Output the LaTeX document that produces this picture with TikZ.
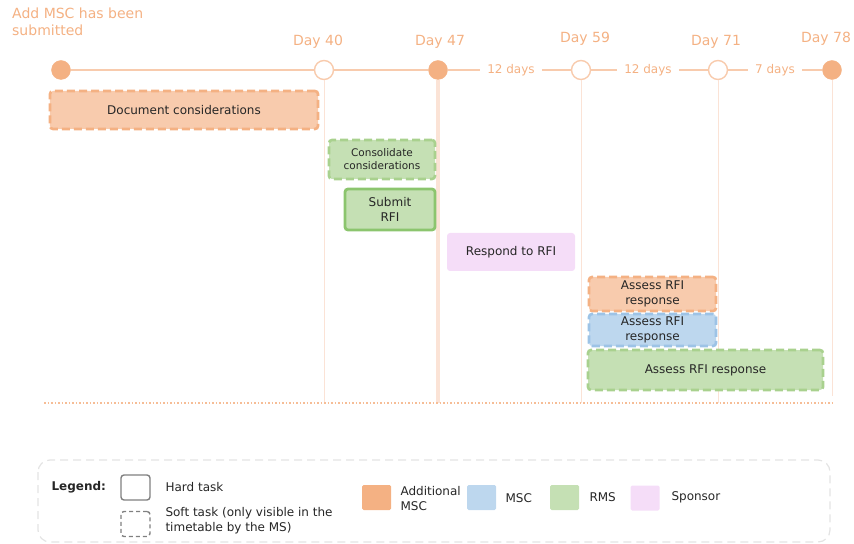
\documentclass[tikz,border=0pt]{standalone}
\usepackage{fontspec}
\setmainfont{DejaVu Sans}
\definecolor{amsc}{HTML}{F4B183}
\definecolor{amscl}{HTML}{F8CBAD}
\definecolor{amsctxt}{HTML}{F4B183}
\definecolor{msc}{HTML}{BDD7EE}
\definecolor{mscd}{HTML}{9DC3E6}
\definecolor{rms}{HTML}{C5E0B4}
\definecolor{rmsd}{HTML}{A9D18E}
\definecolor{rmsh}{HTML}{8CC56E}
\definecolor{spon}{HTML}{F5DDF8}
\definecolor{tline}{HTML}{F8CBAD}
\definecolor{vline}{HTML}{FBE3D6}
\definecolor{leggray}{HTML}{808080}
\definecolor{legbox}{HTML}{E3E3E3}
\begin{document}
\begin{tikzpicture}[x=1bp,y=-1bp,
  every node/.style={font=\fontsize{12bp}{14.5bp}\selectfont, text=black!85, align=center},
  task/.style={rectangle, rounded corners=3bp, inner sep=0pt},
  soft/.style={task, dashed, dash pattern=on 8bp off 4bp, line width=2.6bp},
  hard/.style={task, line width=2.8bp},
  msfull/.style={circle, fill=amsc, draw=amsc, minimum size=19bp, inner sep=0pt},
  msopen/.style={circle, fill=white, draw=tline, line width=1.4bp, minimum size=19bp, inner sep=0pt},
  daylbl/.style={font=\fontsize{14bp}{17bp}\selectfont, text=amsctxt},
  gaplbl/.style={font=\fontsize{12bp}{14bp}\selectfont, text=amsctxt, inner sep=7bp},
  tl/.style={draw=tline, line width=1.4bp},
  guide/.style={draw=vline, line width=0.9bp},
  swatch/.style={rectangle, rounded corners=1.5bp, minimum width=29bp, minimum height=25bp, inner sep=0pt},
  legtxt/.style={font=\fontsize{12bp}{15bp}\selectfont, align=left, anchor=west}
]
\useasboundingbox (0,0) rectangle (854,544);

% milestones
\node[msfull] (m0) at (61,70) {};
\node[msopen] (m1) at (324,70) {};
\node[msfull] (m2) at (438,70) {};
\node[msopen] (m3) at (581,70) {};
\node[msopen] (m4) at (718,70) {};
\node[msfull] (m5) at (832,70) {};

% milestone labels
\node[daylbl, align=left, anchor=north west, inner sep=0pt] (start) at (12,8) {Add MSC has been\\submitted};
\node[daylbl] (l1) at (318,42) {Day 40};
\node[daylbl] (l2) at (440,42) {Day 47};
\node[daylbl] (l3) at (585,39) {Day 59};
\node[daylbl] (l4) at (716,42) {Day 71};
\node[daylbl] (l5) at (826,39) {Day 78};

% durations between milestones
\node[gaplbl] (g1) at (511,70) {12 days};
\node[gaplbl] (g2) at (648,70) {12 days};
\node[gaplbl] (g3) at (775,70) {7 days};

% guide lines down from the milestones
\coordinate (b1) at (324,403);
\coordinate (b2) at (438,403);
\coordinate (b3) at (581,403);
\coordinate (b4) at (718,403);
\coordinate (b5) at (832,396);
\path[guide] (m1) -- (b1);
\path[draw=vline, line width=3.2bp] (m2) -- (b2);
\path[guide] (m3) -- (b3);
\path[guide] (m4) -- (b4);
\path[guide] (m5) -- (b5);

% the timeline
\path[tl] (m0) -- (m1);
\path[tl] (m1) -- (m2);
\path[tl] (m2) -- (g1);
\path[tl] (g1) -- (m3);
\path[tl] (m3) -- (g2);
\path[tl] (g2) -- (m4);
\path[tl] (m4) -- (g3);
\path[tl] (g3) -- (m5);

% end of the timetable
\coordinate (e0) at (44,403);
\coordinate (e1) at (832,403);
\draw[amsc!85, line width=1.1bp, dash pattern=on 1.5bp off 2bp] (e0) -- (e1);

% tasks
\node[soft, fill=amscl, draw=amsc, minimum width=268bp, minimum height=38bp] (doc) at (184,110) {Document considerations};
\node[soft, fill=rms, draw=rmsd, minimum width=106bp, minimum height=39bp, font=\fontsize{10.5bp}{13bp}\selectfont] (cons) at (382,159.5) {Consolidate\\considerations};
\node[hard, fill=rms, draw=rmsh, minimum width=90bp, minimum height=41bp] (sub) at (390,209.5) {Submit\\RFI};
\node[task, fill=spon, minimum width=128bp, minimum height=38bp] (resp) at (511,252) {Respond to RFI};
\node[soft, fill=amscl, draw=amsc, minimum width=127bp, minimum height=34bp] (a1) at (652.5,294) {Assess RFI\\response};
\node[soft, fill=msc, draw=mscd, minimum width=127bp, minimum height=32bp] (a2) at (652.5,330) {Assess RFI\\response};
\node[soft, fill=rms, draw=rmsd, minimum width=235bp, minimum height=40bp] (a3) at (705.5,370) {Assess RFI response};

% legend
\draw[legbox, line width=1.2bp, dashed, dash pattern=on 8bp off 5bp, rounded corners=12bp] (38,460) rectangle (830,542);
\node[legtxt, font=\fontsize{12bp}{15bp}\selectfont\bfseries] (legend) at (48,487) {Legend:};
\node[task, draw=leggray, line width=1.4bp, minimum width=29bp, minimum height=25bp] (hk) at (135.5,487.5) {};
\node[legtxt] (hkt) at (162,487) {Hard task};
\node[task, draw=leggray, line width=1.4bp, dashed, dash pattern=on 4bp off 3bp, minimum width=29bp, minimum height=25bp] (sk) at (135.5,524) {};
\node[legtxt] (skt) at (162,521) {Soft task (only visible in the\\timetable by the MS)};
\node[swatch, fill=amsc] (s1) at (376.5,497.5) {};
\node[legtxt] (s1t) at (397,498.5) {Additional\\MSC};
\node[swatch, fill=msc] (s2) at (481.5,497.5) {};
\node[legtxt] (s2t) at (502,498) {MSC};
\node[swatch, fill=rms] (s3) at (564.5,497.5) {};
\node[legtxt] (s3t) at (586,497) {RMS};
\node[swatch, fill=spon] (s4) at (645,498) {};
\node[legtxt] (s4t) at (668,497.5) {Sponsor};
\end{tikzpicture}
\end{document}
